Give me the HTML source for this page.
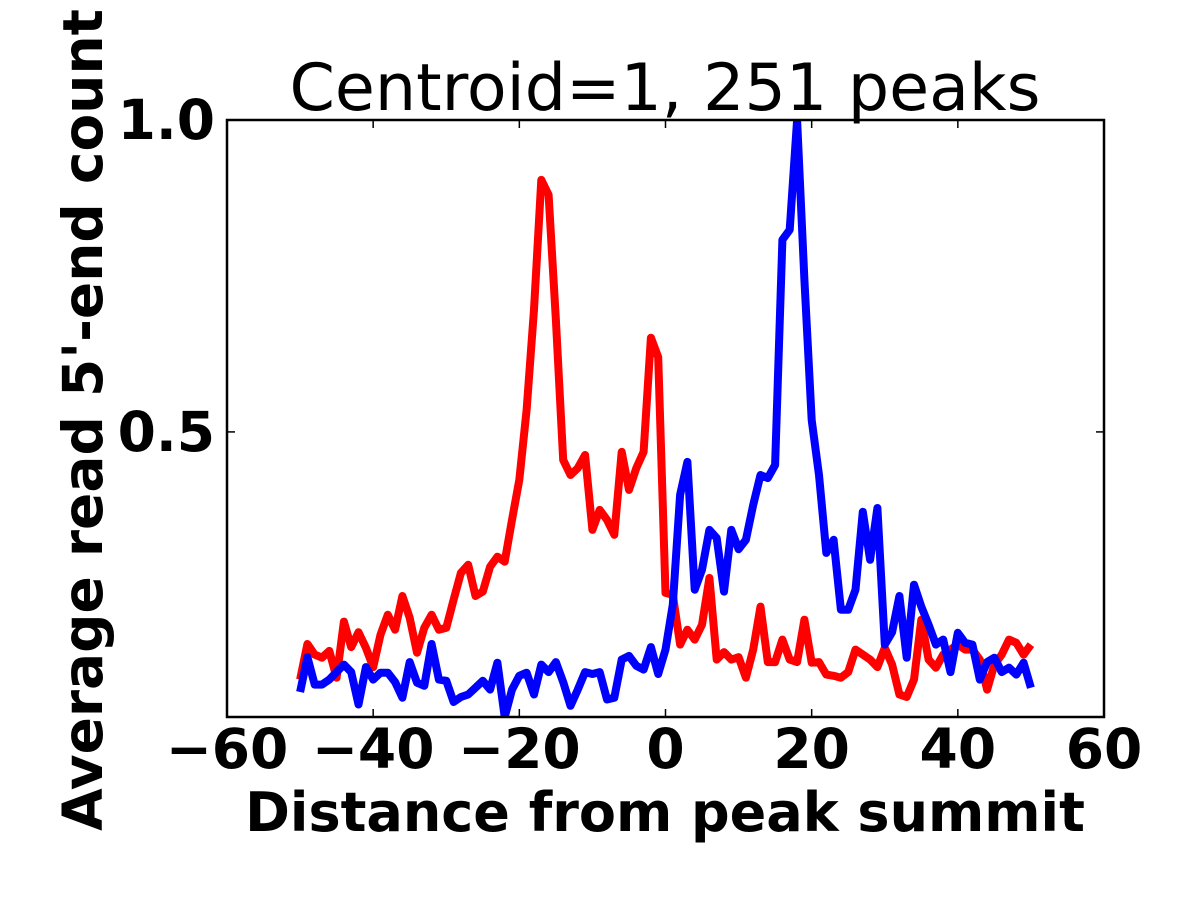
<!DOCTYPE html>
<html><head><meta charset="utf-8"><style>
html,body{margin:0;padding:0;background:#fff;}
svg{display:block;font-family:"DejaVu Sans","Liberation Sans",sans-serif;}
</style></head><body>
<svg id="chart" width="1200" height="900" viewBox="0 0 1200 900">
<rect width="1200" height="900" fill="#fff"/>
<text x="665" y="110" font-size="65" text-anchor="middle">Centroid=1, 251 peaks</text>
<text x="665" y="831" font-size="54" font-weight="bold" text-anchor="middle">Distance from peak summit</text>
<text transform="translate(102,420) rotate(-90)" font-size="55" font-weight="bold" text-anchor="middle">Average read 5'-end count</text>
<g id="plot"></g>
</svg>
<script>
const xTicks = [-60, -40, -20, 0, 20, 40, 60];
const xTickLabels = ["\u221260", "\u221240", "\u221220", "0", "20", "40", "60"];
const yTicks = [0.5, 1.0];
const yTickLabels = ["0.5", "1.0"];
const xStart = -50;
const redValues = [0.103,0.160,0.143,0.138,0.149,0.106,0.196,0.155,0.179,0.154,0.123,0.175,0.207,0.183,0.237,0.202,0.146,0.186,0.207,0.183,0.186,0.231,0.274,0.287,0.237,0.244,0.284,0.300,0.292,0.359,0.423,0.535,0.696,0.904,0.880,0.679,0.455,0.431,0.442,0.463,0.343,0.375,0.359,0.335,0.468,0.407,0.442,0.468,0.651,0.620,0.242,0.239,0.159,0.183,0.167,0.191,0.266,0.135,0.147,0.135,0.139,0.106,0.151,0.220,0.131,0.131,0.167,0.135,0.131,0.199,0.130,0.131,0.111,0.109,0.106,0.115,0.151,0.143,0.135,0.123,0.154,0.127,0.079,0.075,0.103,0.199,0.135,0.122,0.143,0.151,0.159,0.151,0.151,0.135,0.087,0.127,0.143,0.167,0.162,0.143,0.159];
const blueValues = [0.083,0.139,0.095,0.095,0.103,0.115,0.127,0.115,0.063,0.123,0.103,0.114,0.114,0.099,0.074,0.131,0.098,0.093,0.160,0.103,0.101,0.067,0.075,0.079,0.090,0.101,0.087,0.130,0.043,0.087,0.109,0.114,0.079,0.127,0.115,0.131,0.099,0.061,0.087,0.115,0.112,0.115,0.071,0.074,0.135,0.141,0.125,0.119,0.155,0.112,0.151,0.223,0.399,0.452,0.247,0.279,0.343,0.330,0.244,0.343,0.312,0.327,0.383,0.431,0.426,0.447,0.808,0.824,1.0,0.744,0.519,0.431,0.306,0.327,0.215,0.215,0.247,0.372,0.295,0.378,0.159,0.179,0.237,0.138,0.255,0.220,0.191,0.159,0.167,0.115,0.178,0.162,0.159,0.103,0.131,0.138,0.115,0.122,0.111,0.130,0.090];

const L = 227, R = 1104, T = 120, B = 717;
const xMin = -60, xMax = 60, yMin = 0.043, yMax = 1.0;
const sx = v => L + (v - xMin) / (xMax - xMin) * (R - L);
const sy = v => B - (v - yMin) / (yMax - yMin) * (B - T);
const NS = "http://www.w3.org/2000/svg";
const g = document.getElementById('plot');
function mk(tag, attrs) { const e = document.createElementNS(NS, tag); for (const k in attrs) e.setAttribute(k, attrs[k]); g.appendChild(e); return e; }

const clip = document.createElementNS(NS, 'clipPath'); clip.setAttribute('id', 'clipA');
const cr = document.createElementNS(NS, 'rect'); cr.setAttribute('x', L); cr.setAttribute('y', T); cr.setAttribute('width', R - L); cr.setAttribute('height', B - T);
clip.appendChild(cr); g.appendChild(clip);

function series(vals, color, name) {
  const pts = vals.map((v, i) => sx(xStart + i).toFixed(1) + ',' + sy(v).toFixed(1)).join(' ');
  const p = mk('polyline', { points: pts, fill: 'none', stroke: color, 'stroke-width': 8, 'stroke-linejoin': 'round', 'clip-path': 'url(#clipA)' });
  
  
}
series(redValues, '#ff0000', 'red-series-line');
series(blueValues, '#0000ff', 'blue-series-line');

const frame = mk('rect', { x: L, y: T, width: R - L, height: B - T, fill: 'none', stroke: '#000', 'stroke-width': 2.5 });



xTicks.forEach((t, i) => {
  const x = sx(t);
  const t1 = mk('line', { x1: x, x2: x, y1: B, y2: B - 8, stroke: '#000', 'stroke-width': 1.5 });
  
  
  const t2 = mk('line', { x1: x, x2: x, y1: T, y2: T + 8, stroke: '#000', 'stroke-width': 1.5 });
  
  
  const lb = mk('text', { x: x, y: 768, 'font-size': 55, 'font-weight': 'bold', 'text-anchor': 'middle' });
  lb.textContent = xTickLabels[i];
  
  
});
yTicks.forEach((t, i) => {
  const y = sy(t);
  const t1 = mk('line', { x1: L, x2: L + 8, y1: y, y2: y, stroke: '#000', 'stroke-width': 1.5 });
  
  
  const t2 = mk('line', { x1: R, x2: R - 8, y1: y, y2: y, stroke: '#000', 'stroke-width': 1.5 });
  
  
  const lb = mk('text', { x: 215, y: y + 19, 'font-size': 55, 'font-weight': 'bold', 'text-anchor': 'end' });
  lb.textContent = yTickLabels[i];
  
  
});
</script>
</body></html>
